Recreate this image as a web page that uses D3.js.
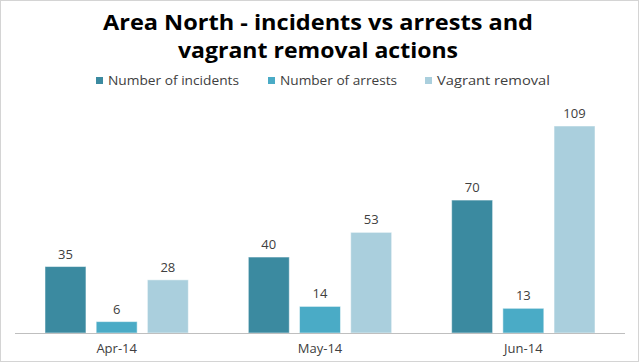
<!DOCTYPE html>
<html>
<head>
<meta charset="utf-8">
<script src="https://cdnjs.cloudflare.com/ajax/libs/d3/7.8.5/d3.min.js"></script>
<style>
body { margin: 0; background: #fff; }
svg text { font-family: "Open Sans", sans-serif; }
</style>
</head>
<body>
<div id="chart"></div>
<script>
// months on the x axis
var months = ['Apr-14', 'May-14', 'Jun-14'];
var seriesNames = ['Number of incidents', 'Number of arrests', 'Vagrant removal'];
var incidents = [35, 40, 70];
var arrests = [6, 14, 13];
var vagrant = [28, 53, 109];
var titleLines = ['Area North - incidents vs arrests and', 'vagrant removal actions'];
var colors = ['#3b8aa0', '#4aabc6', '#aacfdd'];

var width = 640, height = 363;
var svg = d3.select('#chart').append('svg')
	.attr('width', width)
	.attr('height', height);

// outer frame
svg.append('rect')
	.attr('x', 0.5).attr('y', 0.5)
	.attr('width', 638).attr('height', 361)
	.attr('fill', '#fff')
	.attr('stroke', '#d4d4d4');

// title (source font is a bit wider, stretch to fit)
var titleLen = [430, 280];
svg.selectAll('.title').data(titleLines).enter().append('text')
	.attr('class', 'title')
	.attr('x', 318)
	.attr('y', function(d, i){ return 30 + i * 28; })
	.attr('text-anchor', 'middle')
	.attr('font-weight', 'bold')
	.attr('font-size', 22)
	.attr('fill', '#000')
	.attr('textLength', function(d, i){ return titleLen[i]; })
	.attr('lengthAdjust', 'spacingAndGlyphs')
	.text(function(d){ return d; });

// legend
var legendX = [96, 268, 425];
var legendLen = [131, 117, 113];
var legend = svg.selectAll('.legend').data(seriesNames).enter().append('g')
	.attr('class', 'legend')
	.attr('transform', function(d, i){ return 'translate(' + legendX[i] + ',80)'; });
legend.append('rect')
	.attr('x', 0).attr('y', -3)
	.attr('width', 7).attr('height', 7)
	.attr('fill', function(d, i){ return colors[i]; });
legend.append('text')
	.attr('x', 12).attr('y', 5)
	.attr('font-size', 12.5)
	.attr('fill', '#404040')
	.attr('textLength', function(d, i){ return legendLen[i]; })
	.attr('lengthAdjust', 'spacingAndGlyphs')
	.text(function(d){ return d; });

// scales
var x0 = d3.scaleBand().domain(months).range([15, 625]);
var x1 = d3.scaleBand().domain(d3.range(3)).range([30, x0.bandwidth() - 30]).paddingInner(0.2);
var y = d3.scaleLinear().domain([0, 109]).range([333, 126]);

var rows = months.map(function(m, i){
	return {month: m, values: [incidents[i], arrests[i], vagrant[i]]};
});

var groups = svg.selectAll('.group').data(rows).enter().append('g')
	.attr('class', 'group')
	.attr('transform', function(d){ return 'translate(' + x0(d.month) + ',0)'; });

groups.selectAll('rect').data(function(d){ return d.values; }).enter().append('rect')
	.attr('x', function(d, i){ return x1(i); })
	.attr('y', function(d){ return y(d); })
	.attr('width', x1.bandwidth())
	.attr('height', function(d){ return y(0) - y(d); })
	.attr('fill', function(d, i){ return colors[i]; })
	.attr('stroke', 'rgba(255,255,255,0.5)')
	.attr('stroke-width', 1);

groups.selectAll('.val').data(function(d){ return d.values; }).enter().append('text')
	.attr('class', 'val')
	.attr('x', function(d, i){ return x1(i) + x1.bandwidth() / 2; })
	.attr('y', function(d){ return y(d) - 8; })
	.attr('text-anchor', 'middle')
	.attr('font-size', 13)
	.attr('fill', '#404040')
	.text(function(d){ return d; });

// x axis
var xAxis = svg.append('g')
	.attr('transform', 'translate(0,' + y(0) + ')')
	.call(d3.axisBottom(x0).tickSize(0).tickPadding(11));
xAxis.select('.domain').attr('stroke', '#bfbfbf').attr('d', 'M15,0.5H625');
xAxis.selectAll('text')
	.attr('font-size', 13)
	.attr('font-family', '"Open Sans", sans-serif')
	.attr('fill', '#404040');
</script>
</body>
</html>
